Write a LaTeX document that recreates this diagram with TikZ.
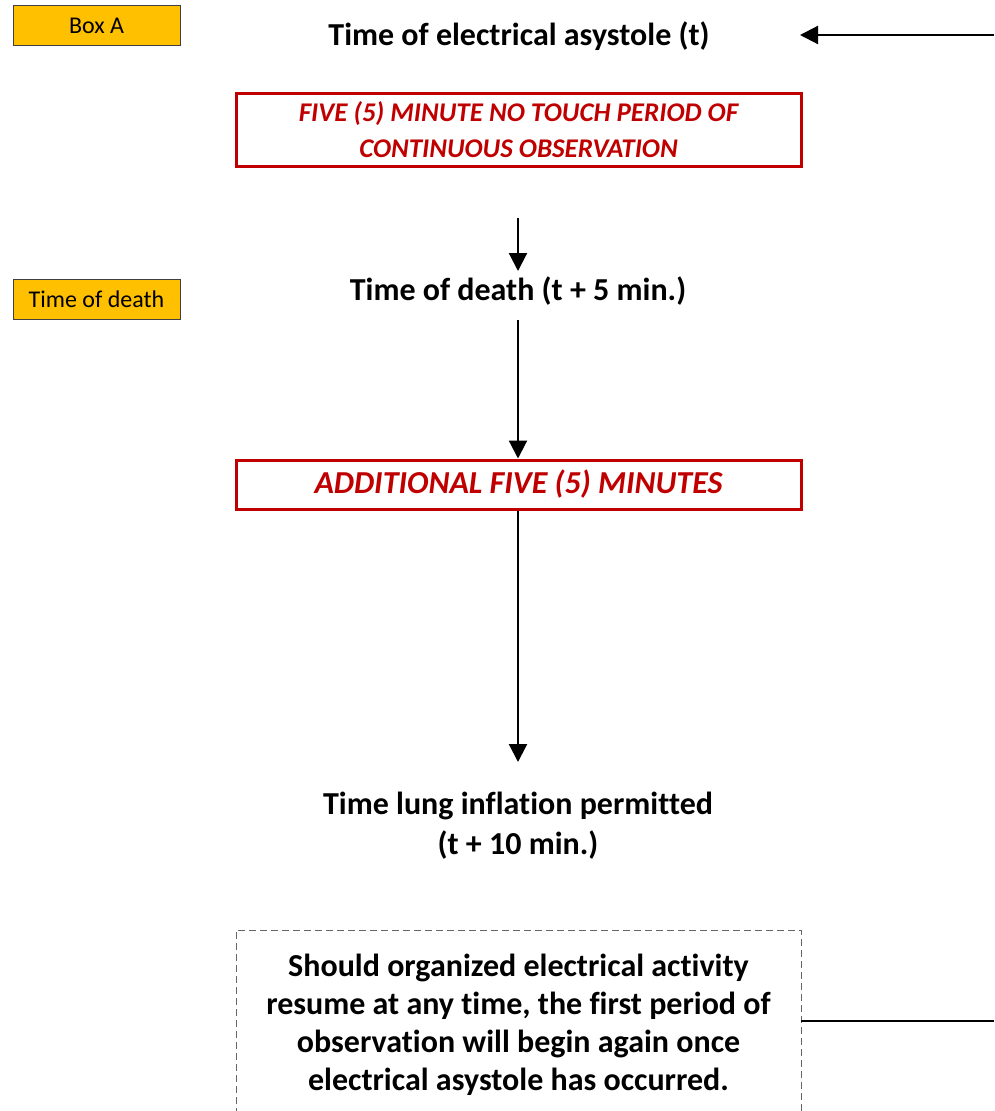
\documentclass[tikz,border=0pt]{standalone}
\usepackage{fontspec}
\setmainfont{Carlito}[Ligatures=NoCommon]
\usetikzlibrary{arrows.meta}
\definecolor{boxred}{HTML}{C00000}
\definecolor{boxgold}{HTML}{FFC000}
\tikzset{
  tag/.style={draw=black!75, line width=0.8pt, fill=boxgold, minimum width=167pt, minimum height=40pt, inner sep=0pt, font=\fontsize{24}{26}\selectfont},
  redbox/.style={draw=boxred, line width=3pt, minimum width=565pt, inner sep=0pt, text=boxred, font=\fontsize{27}{36}\selectfont\bfseries\itshape, align=center},
  label/.style={font=\fontsize{32}{40}\selectfont\bfseries, align=center, inner sep=0pt},
  conn/.style={line width=2.2pt, -{Triangle[length=18pt,width=18pt]}},
  plain/.style={line width=2.2pt},
}
\begin{document}
\begin{tikzpicture}[x=1pt,y=-1pt]
\useasboundingbox (0,0) rectangle (994,1111);
\node[tag] (boxa) at (96.5,25.5) {Box A};
\node[tag] (tod) at (96.5,299.5) {Time of death};
\node[label] (asys) at (519,36) {Time of electrical asystole (t)};
\node[redbox, minimum height=73pt] (five) at (518.5,129.5) {FIVE (5) MINUTE NO TOUCH PERIOD OF\\CONTINUOUS OBSERVATION};
\coordinate (fivebelow) at (518,218);
\node[label] (death) at (518,291) {Time of death (t + 5 min.)};
\node[redbox, minimum height=49pt, font=\fontsize{32}{34}\selectfont\bfseries\itshape] (add) at (518.5,484.5) {ADDITIONAL FIVE (5) MINUTES};
\node[label] (lung) at (518,826) {Time lung inflation permitted\\(t + 10 min.)};
\draw[dashed, draw=black!60, line width=0.8pt, dash pattern=on 7pt off 4pt] (236,1115) -- (236,930) -- (801,930) -- (801,1115);
\node[label, font=\fontsize{32}{38}\selectfont\bfseries] (should) at (518.5,1025) {Should organized electrical activity\\resume at any time, the first period of\\observation will begin again once\\electrical asystole has occurred.};
\coordinate (rightTop) at (994,35);
\coordinate (rightBot) at (994,1021);
\coordinate (boxRight) at (801,1021);
\coordinate (asysArrow) at (800,35);
\coordinate (deathTop) at (518,271);
\coordinate (deathBot) at (518,320);
\coordinate (lungTop) at (518,762);
\draw[conn] (rightTop) -- (asysArrow);
\draw[conn] (fivebelow) -- (deathTop);
\draw[conn] (deathBot) -- (add.north -| deathBot);
\draw[conn] (add.south -| deathBot) -- (lungTop);
\draw[plain] (boxRight) -- (rightBot);
\end{tikzpicture}
\end{document}
